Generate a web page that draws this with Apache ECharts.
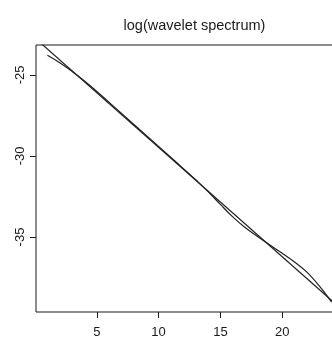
<!DOCTYPE html>
<html>
<head>
<meta charset="utf-8">
<script src="https://cdn.jsdelivr.net/npm/echarts@6/dist/echarts.min.js"></script>
<style>
  html, body { margin: 0; padding: 0; background: #fff; overflow: hidden; }
  /* the plot box runs past the right edge of the window */
  #chart { width: 344px; height: 338px; }
</style>
</head>
<body>
<div id="chart"></div>
<script>
// Wavelet levels and log of the wavelet spectrum at each level
const levels = [1, 2, 3, 4, 5, 6, 7, 8, 9, 10, 11, 12, 13, 14, 15, 16, 17, 18, 19, 20, 21, 22, 23, 24];
const logSpectrum = [-23.78, -24.24, -24.78, -25.37, -26.02, -26.69, -27.37, -28.06, -28.73, -29.41,
                     -30.09, -30.78, -31.47, -32.19, -32.99, -33.76, -34.42, -34.97, -35.50, -36.00,
                     -36.54, -37.17, -38.02, -39.02];

// Straight reference line: intercept and slope
const fitIntercept = -22.72;
const fitSlope = -0.675;

// Axis ranges and tick labels
const xRange = [0.08, 24.92];
const yRange = [-39.63, -23.15];
const xTicks = [5, 10, 15, 20];
const yTicks = [-35, -30, -25];

const font = 'Liberation Sans, Arial, Helvetica, sans-serif';
const ink = '#1a1a1a';

const curveData = levels.map((x, i) => [x, logSpectrum[i]]);
// reference line spans the whole x range; the grid clips it
const fitData = xRange.map(x => [x, fitIntercept + fitSlope * x]);

const chart = echarts.init(document.getElementById('chart'), null, { renderer: 'canvas' });
chart.setOption({
  animation: false,
  backgroundColor: '#fff',
  title: {
    text: 'log(wavelet spectrum)',
    left: 189.5,
    top: 13,
    textAlign: 'center',
    textStyle: { fontFamily: font, fontSize: 14.5, fontWeight: 'normal', color: ink }
  },
  grid: {
    left: 36, top: 45, width: 307, height: 267,
    outerBoundsMode: 'none',
    show: true, borderColor: ink, borderWidth: 1, backgroundColor: 'transparent'
  },
  xAxis: {
    type: 'value',
    min: xRange[0], max: xRange[1],
    axisLine: { show: false },
    splitLine: { show: false },
    axisTick: { show: true, length: 6, customValues: xTicks, lineStyle: { color: ink } },
    axisLabel: { customValues: xTicks, margin: 14, fontFamily: font, fontSize: 13, color: ink }
  },
  yAxis: {
    type: 'value',
    min: yRange[0], max: yRange[1],
    axisLine: { show: false },
    splitLine: { show: false },
    axisTick: { show: true, length: 6, customValues: yTicks, lineStyle: { color: ink } },
    axisLabel: { customValues: yTicks, rotate: 90, margin: 9, fontFamily: font, fontSize: 13, color: ink }
  },
  series: [
    {
      type: 'line',
      data: curveData,
      showSymbol: false,
      symbol: 'none',
      smooth: 0.4,
      clip: true,
      lineStyle: { color: '#222', width: 1.2 }
    },
    {
      type: 'line',
      data: fitData,
      showSymbol: false,
      symbol: 'none',
      clip: true,
      lineStyle: { color: '#222', width: 1.2 }
    }
  ]
});
</script>
</body>
</html>
